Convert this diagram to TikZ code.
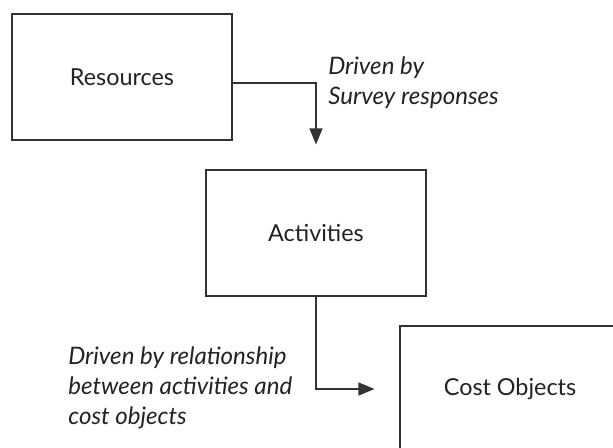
\documentclass[tikz,border=0pt]{standalone}
\usepackage{fontspec}
\setmainfont{Lato}
\usepackage{xcolor}
\definecolor{abcline}{HTML}{333333}
\definecolor{abctext}{HTML}{222222}
\usepackage{tikz}
\usetikzlibrary{arrows.meta,positioning,calc}

\begin{document}
\begin{tikzpicture}[
  font=\fontsize{13.3}{17}\selectfont,
  stage/.style={rectangle, draw=abcline, line width=0.6pt, minimum width=4.4cm,
                minimum height=2.52cm, align=center, text=abctext, inner sep=0pt},
  flow/.style={-{Triangle[length=0.32cm, width=0.26cm]}, line width=0.6pt,
               abcline, shorten >=0.5cm},
  driver/.style={font=\fontsize{13.7}{17}\selectfont\itshape, text=abctext,
                 align=left, inner sep=0pt},
]
\useasboundingbox (0,0) rectangle (12.26,-8.94);
\clip (0,0) rectangle (12.26,-8.94);

% ================= the three stages of the costing chain
\node[stage] (res)  at (2.44,-1.54)  {Resources};
\node[stage] (act)  at (6.32,-4.66)  {Activities};
\node[stage] (cost) at (10.2,-7.78)  {Cost Objects};

% ================= resources -> activities
\draw[flow] ([yshift=-0.12cm]res.east) -| (act.north);
\node[driver, anchor=west] (drv1) at (6.56,-1.66)
  {Driven by\\Survey responses};

% ================= activities -> cost objects
\draw[flow] (act.south) |- (cost.west);
\node[driver, anchor=west] (drv2) at (1.36,-7.76)
  {Driven by relationship\\between activities and\\cost objects};
\end{tikzpicture}
\end{document}
